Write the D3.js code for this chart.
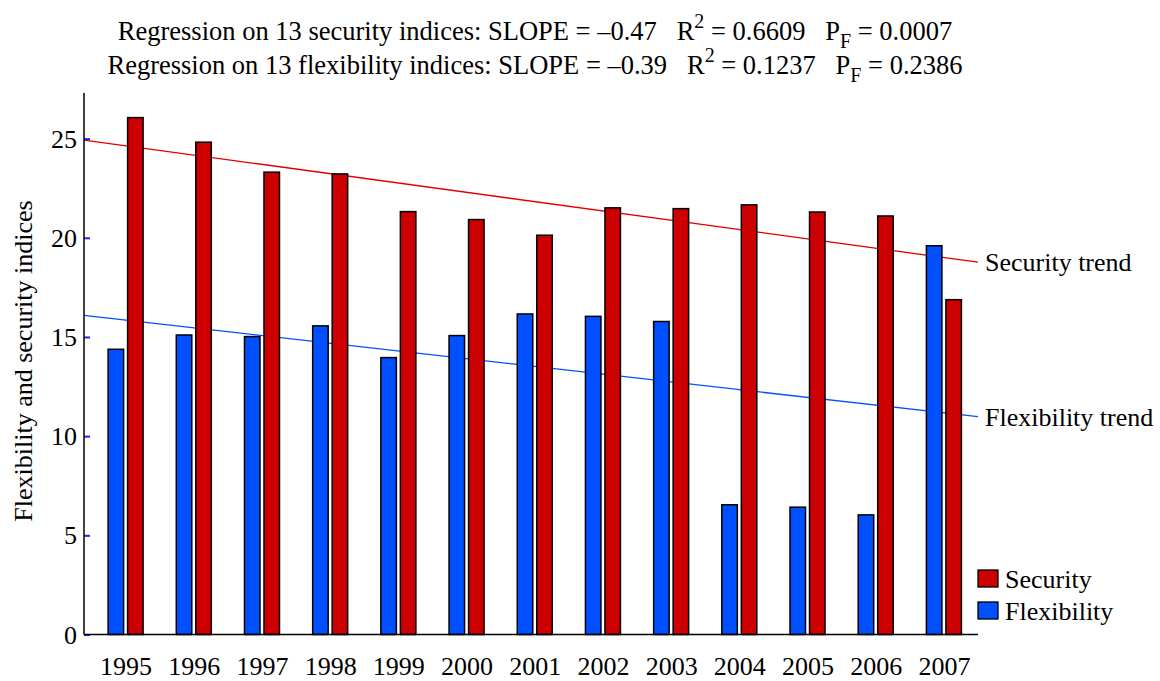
<!DOCTYPE html>
<html><head><meta charset="utf-8">
<script src="https://cdn.jsdelivr.net/npm/d3@7"></script>
<style>body{margin:0;background:#fff}text{font-family:"Liberation Serif","Times New Roman",serif;fill:#000}</style>
</head><body><svg id="c" width="1160" height="681"></svg>
<script>
const years = [1995,1996,1997,1998,1999,2000,2001,2002,2003,2004,2005,2006,2007];
const security = [26.06,24.82,23.31,23.22,21.32,20.92,20.13,21.51,21.47,21.66,21.30,21.10,16.88];
const flexibility = [14.38,15.10,15.02,15.56,13.96,15.07,16.16,16.04,15.78,6.54,6.42,6.03,19.60];
const yTicks = [0,5,10,15,20,25];
const seriesNames = ["Security","Flexibility"];
const trendNames = ["Security trend","Flexibility trend"];
const titleParts = [
  {lead:"Regression on 13 security indices: SLOPE = \u20130.47   R", r2:" = 0.6609   P", pf:" = 0.0007"},
  {lead:"Regression on 13 flexibility indices: SLOPE = \u20130.39   R", r2:" = 0.1237   P", pf:" = 0.2386"}
];
const yLabel = "Flexibility and security indices";

const svg = d3.select("#c");
const x = d3.scaleLinear().domain([1994.39, 2007.5]).range([84, 978]);
const y = d3.scaleLinear().domain([0, 27.3]).range([634.5, 93]);
const red = "#cc0000", blue = "#0050ff";
const bw = 15.5, gap = 4;
const fs = 26;

function fit(xs, ys){
  const mx = d3.mean(xs), my = d3.mean(ys);
  let num=0, den=0;
  xs.forEach((v,i)=>{num+=(v-mx)*(ys[i]-my);den+=(v-mx)*(v-mx);});
  const b=num/den; return {b, a:my-b*mx};
}
const fits = [fit(years, security), fit(years, flexibility)];
const x0 = x.domain()[0], x1 = x.domain()[1];
fits.forEach((f,i)=>{
  svg.append("line").attr("x1",x(x0)).attr("x2",x(x1))
    .attr("y1",y(f.a+f.b*x0)).attr("y2",y(f.a+f.b*x1))
    .attr("stroke", i===0?"#e00000":blue).attr("stroke-width",1.3);
  svg.append("text").attr("x",x(x1)+7).attr("y",y(f.a+f.b*x1)).attr("dy","0.35em")
    .attr("font-size",fs).text(trendNames[i]);
});

years.forEach((yr,i)=>{
  const cx = x(yr);
  svg.append("rect").attr("x",cx-gap/2-bw).attr("width",bw)
    .attr("y",y(flexibility[i])).attr("height",y(0)-y(flexibility[i]))
    .attr("fill",blue).attr("stroke","#000").attr("stroke-width",1.5);
  svg.append("rect").attr("x",cx+gap/2).attr("width",bw)
    .attr("y",y(security[i])).attr("height",y(0)-y(security[i]))
    .attr("fill",red).attr("stroke","#000").attr("stroke-width",1.5);
});

const yAxis = svg.append("g").attr("transform","translate(84,0)")
  .call(d3.axisRight(y).tickValues(yTicks).tickSize(6).tickFormat(""));
yAxis.select(".domain").remove();
yAxis.selectAll(".tick line").attr("stroke","#2020ff").attr("stroke-width",2);
yTicks.forEach(t=>{
  svg.append("text").attr("x",77).attr("y",y(t)).attr("dy","0.35em")
    .attr("text-anchor","end").attr("font-size",fs).text(t);
});
svg.append("line").attr("x1",84).attr("x2",84).attr("y1",93).attr("y2",y(0)).attr("stroke","#000").attr("stroke-width",1.5);
svg.append("line").attr("x1",84).attr("x2",978).attr("y1",y(0)).attr("y2",y(0)).attr("stroke","#000").attr("stroke-width",1.5);

const xAxis = svg.append("g").attr("transform",`translate(0,${y(0)})`)
  .call(d3.axisBottom(x).tickValues(years).tickSize(0).tickPadding(22).tickFormat(d3.format("d")));
xAxis.select(".domain").remove();
xAxis.selectAll("text").attr("font-size",fs).attr("font-family","Liberation Serif").attr("fill","#000");

svg.append("text").attr("transform","translate(32,361) rotate(-90)")
  .attr("text-anchor","middle").attr("font-size",fs).text(yLabel);

titleParts.forEach((p,i)=>{
  const t = svg.append("text").attr("x",535).attr("y",40+34*i).attr("text-anchor","middle")
    .attr("font-size",26.5).attr("xml:space","preserve");
  t.append("tspan").text(p.lead);
  t.append("tspan").attr("dy",-12).attr("font-size",20).text("2");
  t.append("tspan").attr("dy",12).text(p.r2);
  t.append("tspan").attr("dy",8).attr("font-size",20).text("F");
  t.append("tspan").attr("dy",-8).text(p.pf);
});

seriesNames.forEach((n,i)=>{
  const yy = 570 + 32*i;
  svg.append("rect").attr("x",978).attr("y",yy).attr("width",20).attr("height",17)
    .attr("fill", i===0?red:blue).attr("stroke","#000").attr("stroke-width",1.3);
  svg.append("text").attr("x",1005).attr("y",yy+8.5).attr("dy","0.35em").attr("font-size",fs).text(n);
});
</script></body></html>
